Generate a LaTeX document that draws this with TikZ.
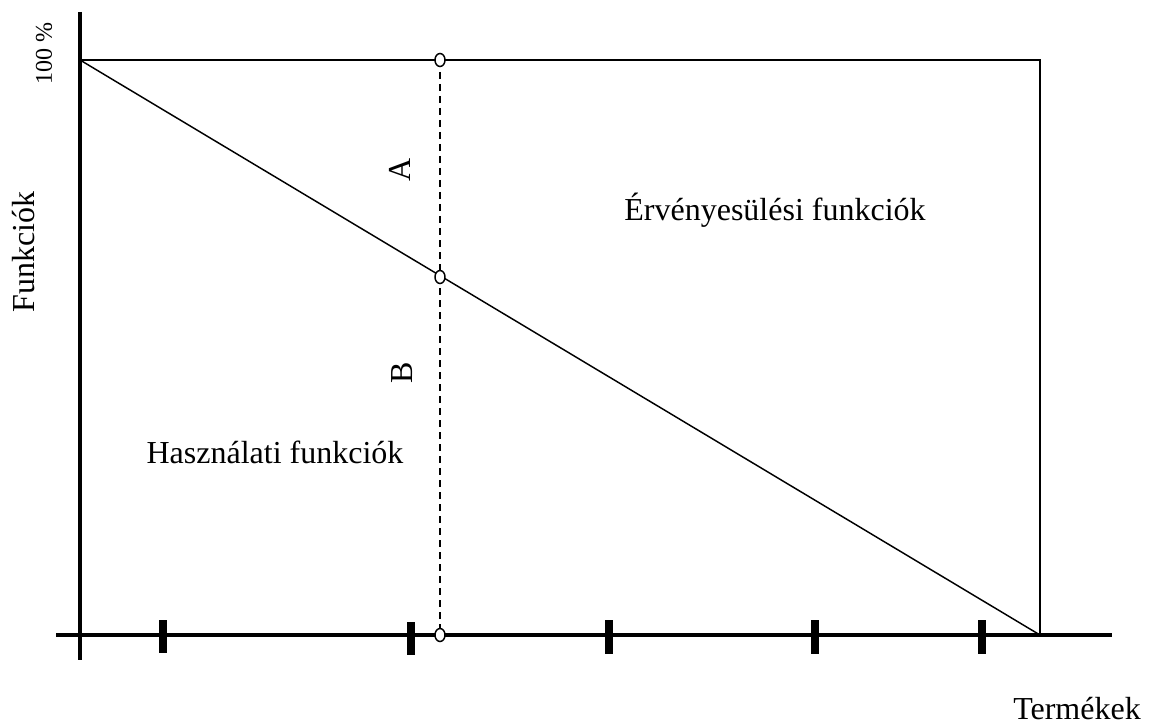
\documentclass[tikz,border=0pt]{standalone}
\usepackage{fontspec}
\setmainfont{Liberation Serif}
\begin{document}
\begin{tikzpicture}[x=0.75pt,y=-0.75pt,
  axis/.style={line width=2.4pt},
  frame/.style={line width=1.5pt},
  diag/.style={line width=1.1pt},
  dashline/.style={line width=1.5pt, dash pattern=on 5.5pt off 3.5pt},
  tickmark/.style={fill=black},
  mark circle/.style={line width=1.1pt, fill=white},
  lbl/.style={font=\fontsize{24}{28}\selectfont, inner sep=0pt},
  rlbl/.style={lbl, rotate=90}]
\useasboundingbox (0,0) rectangle (1155,727);
% key points
\coordinate (ytop) at (80,12);
\coordinate (ybot) at (80,660);
\coordinate (xl) at (56,635);
\coordinate (xr) at (1112,635);
\coordinate (tl) at (80,60);
\coordinate (tr) at (1040,60);
\coordinate (br) at (1040,635);
\coordinate (dtop) at (440,60);
\coordinate (dmid) at (440,277);
\coordinate (dbot) at (440,635);
% frame and diagonal
\draw[frame] (tl) -- (tr) -- (br);
\draw[diag] (tl) -- (br);
\draw[dashline] (dtop) -- (dbot);
% axes
\draw[axis] (ytop) -- (ybot);
\draw[axis] (xl) -- (xr);
% ticks
\foreach \tx/\ta/\tb in {163/620/653, 411/622/655, 609/620/654, 815/620/654, 982/620/654}
  \fill[tickmark] (\tx-3.8,\ta) rectangle (\tx+3.8,\tb);
% circles
\foreach \c in {dtop,dmid,dbot}
  \draw[mark circle] (\c) ellipse [x radius=5, y radius=6.5];
% labels
\node[lbl, rotate=90, font=\fontsize{18}{22}\selectfont] (p100) at (44,54) {100 \%};
\node[rlbl] (fk) at (24,252) {Funkciók};
\node[rlbl] (la) at (400,170) {A};
\node[rlbl] (lb) at (402,373) {B};
\node[lbl] (erv) at (775,210) {Érvényesülési funkciók};
\node[lbl] (hasz) at (275,452) {Használati funkciók};
\node[lbl] (term) at (1077,709) {Termékek};
\end{tikzpicture}
\end{document}
